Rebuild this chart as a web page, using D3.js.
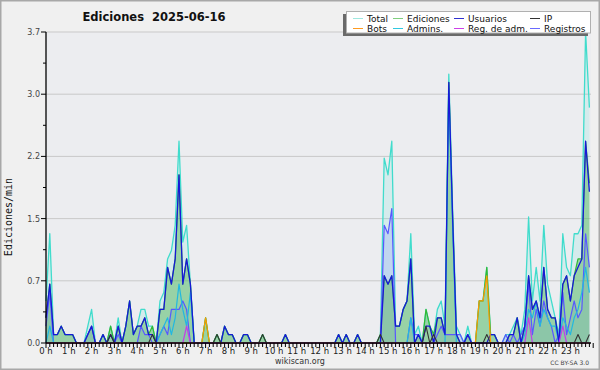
<!DOCTYPE html>
<html>
<head>
<meta charset="utf-8">
<script src="https://cdn.jsdelivr.net/npm/d3@7"></script>
<style>
  body { margin: 0; background: #fff; }
  svg { display: block; }
</style>
</head>
<body>
<svg id="canvas" width="600" height="370"></svg>
<script>
// edits per minute, one value per 10 minutes (144 bins)
var total = [
  0.5,1.3,0.1,0.1,0.2,0.1,  0.1,0.1,0,0,0,0.2,  0.4,0,0,0.1,0,0.2,  0,0.3,0,0.2,0.5,0.1,
  0.2,0.4,0.4,0.2,0.2,0,  0.5,0.6,1.0,1.1,1.4,2.4,  1.2,1.4,0.7,0,0,0,  0.3,0,0,0.1,0,0.2,
  0.1,0.1,0,0,0.1,0.1,  0,0,0,0.1,0,0,  0,0,0,0.1,0,0,  0,0,0,0,0,0,
  0,0,0,0,0,0.1,  0,0.1,0,0,0.1,0,  0,0,0,0,0.1,2.2,  2.0,2.4,0.2,0.2,0.4,0.5,
  1.3,0.1,0.2,0,0.4,0.2,  0.1,0.4,0.5,0.2,3.2,1.6,  0.2,0.1,0,0.2,0,0,  0.5,0.5,0.9,0.1,0.1,0,
  0,0.1,0.1,0.2,0.3,0.1,  0.4,1.5,0.5,0.9,0.5,1.4,  0.7,0.5,0.3,0.1,1.3,0.9,  0.8,1.3,1.3,1.4,3.7,2.8
];
var ediciones = [
  0.3,0.7,0.1,0.1,0.2,0.1,  0.1,0.1,0,0,0,0.1,  0.2,0,0,0.1,0,0.2,  0,0.2,0,0.2,0.5,0.1,
  0.2,0.2,0.3,0.1,0.2,0,  0.4,0.4,0.9,0.7,1.0,2.0,  0.7,1.0,0.7,0,0,0,  0.3,0,0,0.1,0,0.2,
  0.1,0.1,0,0,0.1,0.1,  0,0,0,0.1,0,0,  0,0,0,0.1,0,0,  0,0,0,0,0,0,
  0,0,0,0,0,0.1,  0,0.1,0,0,0.1,0,  0,0,0,0,0.1,0.8,  0.7,0.8,0.2,0.2,0.4,0.5,
  1.0,0,0.1,0,0.4,0.2,  0.1,0.3,0.3,0.1,3.1,1.5,  0.1,0,0,0.1,0,0,  0.5,0.5,0.9,0.1,0.1,0,
  0,0,0.1,0.1,0.3,0,  0.2,0.8,0.4,0.5,0.3,0.9,  0.4,0.3,0.3,0,0.7,0.8,  0.5,0.8,1.0,1.0,2.4,1.9
];
var usuarios = [
  0.3,0.7,0.1,0.1,0.2,0.1,  0.1,0.1,0,0,0,0.1,  0.2,0,0,0.1,0,0.1,  0,0.2,0,0.2,0.5,0.1,
  0.2,0.2,0.3,0.1,0.1,0,  0.4,0.4,0.9,0.7,1.0,2.0,  0.7,1.0,0.7,0,0,0,  0,0,0,0,0,0.2,
  0.1,0.1,0,0,0.1,0.1,  0,0,0,0,0,0,  0,0,0,0.1,0,0,  0,0,0,0,0,0,
  0,0,0,0,0,0.1,  0,0.1,0,0,0.1,0,  0,0,0,0,0,0.8,  0.7,0.8,0.2,0.2,0.4,0.5,
  1.0,0,0.1,0,0.2,0.2,  0,0.3,0.3,0.1,3.1,1.5,  0.1,0,0,0.1,0,0,  0,0,0,0.1,0.1,0,
  0,0,0.1,0.1,0.3,0,  0.2,0.8,0.4,0.5,0.3,0.9,  0.4,0.3,0.3,0,0.7,0.8,  0.5,0.8,0.9,1.0,2.4,1.8
];
var ip = [
  0,0,0,0,0,0,  0,0,0,0,0,0,  0,0,0,0,0,0.1,  0,0,0,0,0,0,
  0,0,0,0,0.1,0,  0,0,0,0,0,0,  0,0,0,0,0,0,  0,0,0,0.1,0,0,
  0,0,0,0,0,0,  0,0,0,0.1,0,0,  0,0,0,0,0,0,  0,0,0,0,0,0,
  0,0,0,0,0,0,  0,0,0,0,0,0,  0,0,0,0,0.1,0,  0,0,0,0,0,0,
  0,0,0,0,0.2,0,  0.1,0,0,0,0,0,  0,0,0,0,0,0,  0,0,0.1,0,0,0,
  0,0,0,0,0,0,  0,0,0,0,0,0,  0,0,0,0,0,0,  0,0,0.1,0,0,0.1
];
var bots = [
  0,0,0,0,0,0,  0,0,0,0,0,0,  0,0,0,0,0,0,  0,0,0,0,0,0,
  0,0,0,0,0,0,  0,0,0,0,0,0,  0,0,0,0,0,0,  0.3,0,0,0,0,0,
  0,0,0,0,0,0,  0,0,0,0,0,0,  0,0,0,0,0,0,  0,0,0,0,0,0,
  0,0,0,0,0,0,  0,0,0,0,0,0,  0,0,0,0,0,0,  0,0,0,0,0,0,
  0,0,0,0,0,0,  0,0,0,0,0,0,  0,0,0,0,0,0,  0.5,0.5,0.8,0,0,0,
  0,0,0,0,0,0,  0,0,0,0,0,0,  0,0,0,0,0,0,  0,0,0,0,0,0
];
var admins = [
  0,0.2,0,0,0,0,  0,0,0,0,0,0,  0,0,0,0,0,0,  0,0,0,0,0,0,
  0,0,0,0,0,0,  0.1,0.2,0.3,0.1,0.3,0.7,  0.4,0.2,0.6,0,0,0,  0,0,0,0,0,0,
  0,0,0,0,0,0,  0,0,0,0,0,0,  0,0,0,0,0,0,  0,0,0,0,0,0,
  0,0,0,0,0,0,  0,0,0,0,0,0,  0,0,0,0,0,0,  0,0,0,0,0,0,
  0.3,0,0,0,0,0,  0,0,0,0,3.0,1.4,  0,0,0,0,0,0,  0,0,0,0,0,0,
  0,0,0,0,0,0,  0.1,0.4,0.3,0.5,0.2,0.4,  0.3,0.2,0.2,0,0.3,0.2,  0.1,0.3,0.4,0.6,0.9,0.6
];
var regAdm = [
  0,0,0,0,0,0,  0,0,0,0,0,0,  0,0,0,0,0,0,  0,0,0,0,0,0,
  0,0,0,0,0,0,  0,0,0,0,0,0,  0,0.2,0,0,0,0,  0,0,0,0,0,0,
  0,0,0,0,0,0,  0,0,0,0,0,0,  0,0,0,0,0,0,  0,0,0,0,0,0,
  0,0,0,0,0,0,  0,0,0,0,0,0,  0,0,0,0,0,0,  0,0,0,0,0,0,
  0,0,0,0,0,0,  0,0,0,0,0,0,  0,0,0,0,0,0,  0,0,0,0,0,0,
  0,0,0,0,0,0,  0,0.3,0,0,0,0,  0,0,0,0,0.2,0,  0,0,0,0,0,0
];
var registros = [
  0.2,0.6,0,0,0,0,  0,0,0,0,0,0.1,  0.2,0,0,0,0,0,  0,0.1,0,0,0,0,
  0,0.2,0.1,0.1,0,0,  0.1,0.2,0.1,0.4,0.4,0.4,  0.5,0.4,0,0,0,0,  0,0,0,0,0,0,
  0,0,0,0,0,0,  0,0,0,0,0,0,  0,0,0,0,0,0,  0,0,0,0,0,0,
  0,0,0,0,0,0,  0,0,0,0,0,0,  0,0,0,0,0,1.4,  1.3,1.6,0,0,0,0,
  0.3,0.1,0.1,0,0,0,  0,0.1,0.2,0.1,0.1,0.1,  0.1,0.1,0,0.1,0,0,  0,0,0,0,0,0,
  0,0.1,0,0.1,0,0.1,  0.2,0.7,0.1,0.4,0.2,0.5,  0.3,0.2,0,0.1,0.6,0.1,  0.3,0.5,0.3,0.4,1.3,0.9
];

var yTicks = [0, 0.74, 1.48, 2.22, 2.96, 3.7];
var hours = d3.range(24);

var legendNames = ["Total", "Ediciones", "Usuarios", "IP", "Bots", "Admins.", "Reg. de adm.", "Registros"];
var legendColors = ["#9fe8e0", "#7fcf7f", "#3030d0", "#333333", "#ff9a20", "#30c8e0", "#cc40e8", "#6a6aff"];

var svg = d3.select("#canvas");
var width = +svg.attr("width");
var height = +svg.attr("height");

var plotLeft = 46, plotRight = 591, plotTop = 32, plotBottom = 343;

// frame
svg.append("rect")
  .attr("x", 0.75).attr("y", 0.75)
  .attr("width", width - 1.5).attr("height", height - 1.5)
  .style("fill", "#f0f0f0")
  .style("stroke", "#a8a8a8")
  .style("stroke-width", 1.5);

svg.append("rect")
  .attr("x", plotLeft).attr("y", plotTop)
  .attr("width", plotRight - plotLeft).attr("height", plotBottom - plotTop)
  .style("fill", "#ecedf0");

var x = d3.scaleLinear().domain([0, 143]).range([plotLeft, 589.4]);
var y = d3.scaleLinear().domain([0, 3.7]).range([plotBottom, plotTop]);

// grid
svg.selectAll("line.grid")
  .data(yTicks.slice(1)).enter()
  .append("line")
  .attr("class", "grid")
  .attr("x1", plotLeft).attr("x2", plotRight)
  .attr("y1", function(d) { return y(d); })
  .attr("y2", function(d) { return y(d); })
  .style("stroke", "#c9c9c9")
  .style("stroke-width", 1);

var area = d3.area()
  .x(function(d, i) { return x(i); })
  .y0(y(0))
  .y1(function(d) { return y(d); });

var line = d3.line()
  .x(function(d, i) { return x(i); })
  .y(function(d) { return y(d); });

// fills
svg.append("path").datum(total).attr("d", area)
  .style("fill", "#40e0d0").style("opacity", 0.13);
svg.append("path").datum(registros).attr("d", area)
  .style("fill", "#5a6cff").style("opacity", 0.16);
svg.append("path").datum(ediciones).attr("d", area)
  .style("fill", "#46b046").style("opacity", 0.42);

// lines
var series = [
  [total, "#40dccc", 1.3],
  [ediciones, "#33b833", 1.2],
  [registros, "#5858ff", 1.2],
  [admins, "#22b8e0", 1.2],
  [usuarios, "#1818d8", 1.3],
  [ip, "#333333", 1.1],
  [bots, "#ff9900", 1.2],
  [regAdm, "#c43ee6", 1.2]
];
series.forEach(function(s) {
  svg.append("path").datum(s[0]).attr("d", line)
    .style("fill", "none")
    .style("stroke", s[1])
    .style("stroke-width", s[2])
    .style("stroke-linejoin", "round");
});

// axes
svg.append("line")
  .attr("x1", plotLeft).attr("x2", plotLeft).attr("y1", plotTop).attr("y2", plotBottom)
  .style("stroke", "#000").style("stroke-width", 1.3);
svg.append("line")
  .attr("x1", plotLeft).attr("x2", plotRight).attr("y1", plotBottom).attr("y2", plotBottom)
  .style("stroke", "#000").style("stroke-width", 1.3);

svg.selectAll("line.ytick")
  .data(yTicks).enter()
  .append("line")
  .attr("x1", plotLeft - 5).attr("x2", plotLeft)
  .attr("y1", function(d) { return y(d); })
  .attr("y2", function(d) { return y(d); })
  .style("stroke", "#000");

svg.selectAll("line.yminor")
  .data(yTicks.slice(1)).enter()
  .append("line")
  .attr("x1", plotLeft - 3).attr("x2", plotLeft)
  .attr("y1", function(d) { return y(d - 0.37); })
  .attr("y2", function(d) { return y(d - 0.37); })
  .style("stroke", "#000");

svg.selectAll("text.ylab")
  .data(yTicks).enter()
  .append("text")
  .attr("x", plotLeft - 6)
  .attr("y", function(d) { return y(d) + 3; })
  .attr("text-anchor", "end")
  .style("font-family", "DejaVu Sans")
  .style("font-size", "8px")
  .style("fill", "#444")
  .text(d3.format(".1f"));

svg.selectAll("line.xtick")
  .data(d3.range(145)).enter()
  .append("line")
  .attr("x1", function(d) { return x(d); })
  .attr("x2", function(d) { return x(d); })
  .attr("y1", plotBottom)
  .attr("y2", function(d) { return d % 6 === 0 ? plotBottom + 5 : plotBottom + 4; })
  .style("stroke", "#000")
  .style("stroke-width", 1);

svg.selectAll("text.xlab")
  .data(hours).enter()
  .append("text")
  .attr("x", function(d) { return x(d * 6); })
  .attr("y", plotBottom + 11)
  .attr("text-anchor", "middle")
  .style("font-family", "DejaVu Sans")
  .style("font-size", "8.5px")
  .style("fill", "#222")
  .text(function(d) { return d + " h"; });

// titles
svg.append("text")
  .attr("x", 154).attr("y", 21)
  .attr("text-anchor", "middle")
  .style("font-family", "DejaVu Sans")
  .style("font-weight", "bold")
  .style("font-size", "11.5px")
  .style("fill", "#111")
  .style("white-space", "pre")
  .text("Ediciones  2025-06-16");

svg.append("text")
  .attr("transform", "translate(12,217) rotate(-90)")
  .attr("text-anchor", "middle")
  .style("font-family", "DejaVu Sans Mono")
  .style("font-size", "10px")
  .style("fill", "#111")
  .text("Ediciones/min");

svg.append("text")
  .attr("x", 300).attr("y", 364)
  .attr("text-anchor", "middle")
  .style("font-family", "DejaVu Sans")
  .style("font-size", "8px")
  .style("fill", "#333")
  .text("wikiscan.org");

svg.append("text")
  .attr("x", 589).attr("y", 365)
  .attr("text-anchor", "end")
  .style("font-family", "DejaVu Sans")
  .style("font-size", "6px")
  .style("fill", "#444")
  .text("CC BY-SA 3.0");

// legend
svg.append("rect")
  .attr("x", 343).attr("y", 14).attr("width", 245).attr("height", 22)
  .style("fill", "#6a6a6a");
svg.append("rect")
  .attr("x", 346.5).attr("y", 11.5).attr("width", 244).attr("height", 21.5)
  .style("fill", "#fff")
  .style("stroke", "#b0b0b0")
  .style("stroke-width", 1);

var colX = [353, 393, 454, 530];
var legend = svg.selectAll("g.leg")
  .data(legendNames).enter()
  .append("g")
  .attr("transform", function(d, i) {
    return "translate(" + colX[i % 4] + "," + (i < 4 ? 18.5 : 28.5) + ")";
  });
legend.append("line")
  .attr("x1", 0).attr("x2", 10)
  .style("stroke", function(d, i) { return legendColors[i]; })
  .style("stroke-width", 1);
legend.append("text")
  .attr("x", 14).attr("y", 3.5)
  .style("font-family", "DejaVu Sans")
  .style("font-size", "9px")
  .style("fill", "#111")
  .text(function(d) { return d; });
</script>
</body>
</html>
